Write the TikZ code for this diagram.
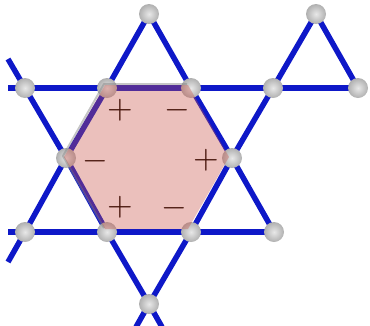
\documentclass[tikz,border=0pt]{standalone}
\usepackage{graphicx}
\usetikzlibrary{calc}
\definecolor{latblue}{RGB}{14,24,200}
\definecolor{hexfill}{RGB}{200,80,70}
\definecolor{signcol}{RGB}{70,20,10}
\newcommand{\bigsign}[1]{\scalebox{3.3}{$#1$}}
\tikzset{
  bond/.style={draw=latblue, line width=5.5pt},
  site/.style={circle, minimum size=20pt, inner sep=0pt, inner color=gray!18, outer color=gray!62, shading=radial},
  sign/.style={text=signcol, inner sep=0pt},
}
\begin{document}
\begin{tikzpicture}[x=1pt,y=-1pt]
\useasboundingbox (0,0) rectangle (370,325);
\clip (0,0) rectangle (370,325);
% lattice sites (coordinates)
\coordinate (A) at (149,14);
\coordinate (B) at (107,88);
\coordinate (C) at (191,88);
\coordinate (L1) at (25,88);
\coordinate (R1) at (273,88);
\coordinate (R2) at (358,88);
\coordinate (T2) at (316,14);
\coordinate (HL) at (66,158);
\coordinate (HR) at (232,158);
\coordinate (D) at (107,232);
\coordinate (E) at (191,232);
\coordinate (L2) at (25,232);
\coordinate (R3) at (274,232);
\coordinate (F) at (149,304);
% free ends
\coordinate (e1) at (8,88);
\coordinate (e2) at (8,59);
\coordinate (e3) at (8,232);
\coordinate (e4) at (8,262);
\coordinate (e5) at (162,327);
\coordinate (e6) at (136,327);
% bonds
\draw[bond] (e1) -- (L1) -- (B) -- (C) -- (R1) -- (R2);
\draw[bond] (e3) -- (L2) -- (D) -- (E) -- (R3);
\draw[bond] (e2) -- (L1) -- (HL) -- (D) -- (F) -- (e5);
\draw[bond] (e4) -- (L2) -- (HL) -- (B) -- (A) -- (C) -- (HR) -- (E) -- (F) -- (e6);
\draw[bond] (HR) -- (R1) -- (T2) -- (R2);
\draw[bond] (HR) -- (R3);
% sites
\foreach \p in {A,B,C,L1,R1,R2,T2,HL,HR,D,E,L2,R3,F}
  \node[site] (s\p) at (\p) {};
% hexagon
\draw[gray, opacity=0.45, line width=2pt, line join=round] (104,228) -- (63,156) -- (104,84) -- (187,84);
\fill[hexfill, opacity=0.36] (105,85) -- (188,85) -- (229,157) -- (188,229) -- (105,229) -- (64,157) -- cycle;
% signs
\node[sign] (p1) at (120,110) {\bigsign{+}};
\node[sign] (m1) at (177,110) {\bigsign{-}};
\node[sign] (m2) at (95,161) {\bigsign{-}};
\node[sign] (p2) at (206,160) {\bigsign{+}};
\node[sign] (p3) at (120,207) {\bigsign{+}};
\node[sign] (m3) at (174,208) {\bigsign{-}};
\end{tikzpicture}
\end{document}
